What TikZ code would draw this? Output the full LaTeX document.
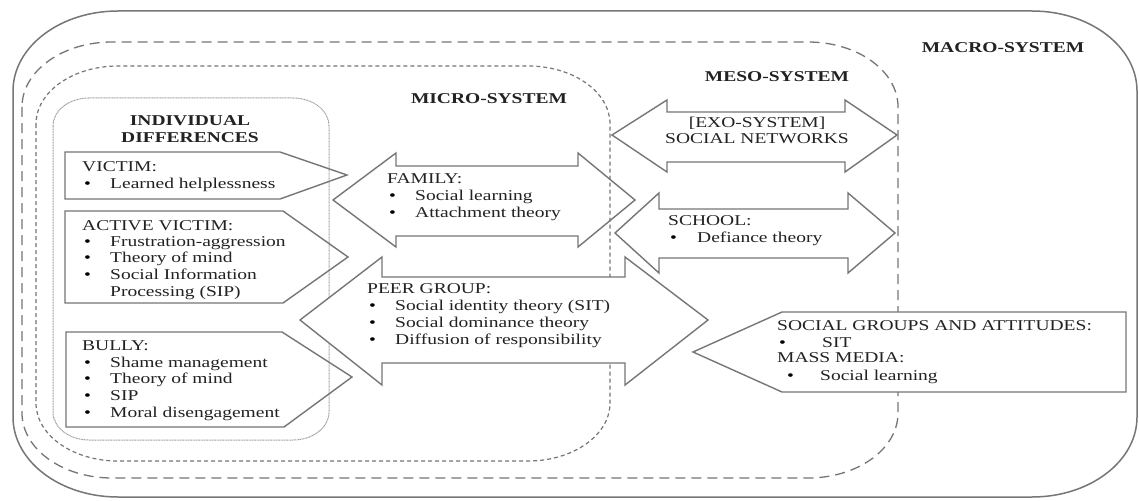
\documentclass[tikz,border=0pt]{standalone}
\usepackage{fontspec}
\setmainfont{Liberation Serif}[FakeStretch=1.3]
\definecolor{ln}{HTML}{767676}
\definecolor{tx}{HTML}{222222}
% elliptical-cornered box: x1,y1,x2,y2,rx,ry,style
\newcommand\ellbox[7]{\draw[#7] (#1,#2+#6) -- (#1,#4-#6)
  arc[start angle=180,end angle=270,x radius=#5pt,y radius=#6pt] -- (#3-#5,#4)
  arc[start angle=270,end angle=360,x radius=#5pt,y radius=#6pt] -- (#3,#2+#6)
  arc[start angle=0,end angle=90,x radius=#5pt,y radius=#6pt] -- (#1+#5,#2)
  arc[start angle=90,end angle=180,x radius=#5pt,y radius=#6pt] -- cycle;}
\begin{document}
\begin{tikzpicture}[x=1pt,y=-1pt,
  every node/.style={text=tx, font=\fontsize{15}{17}\selectfont, inner sep=0pt},
  lbl/.style={anchor=base west},
  bul/.style={anchor=base west, text=black},
  headlbl/.style={anchor=base, font=\fontsize{15}{17}\selectfont\bfseries},
  shp/.style={draw=ln, line width=1.4pt, line join=miter},
  macrobox/.style={draw=ln, line width=1.5pt},
  mesobox/.style={draw=ln, line width=1.3pt, dash pattern=on 10pt off 6pt},
  microbox/.style={draw=ln, line width=1.2pt, dash pattern=on 4pt off 3pt},
  indbox/.style={draw=ln!70, line width=1pt, dash pattern=on 1pt off 0.6pt}]
\useasboundingbox (0,0) rectangle (1139,500);
\fill[white] (0,0) rectangle (1139,500);

% system boxes
\ellbox{13}{11}{1137}{497}{105}{80}{macrobox}
\ellbox{22}{42}{898}{478}{90}{65}{mesobox}
\ellbox{36}{66}{610}{461}{82}{58}{microbox}
\ellbox{53}{98}{329}{440}{36}{28}{indbox}

% headings
\node[headlbl] (macro) at (1003,53) {MACRO-SYSTEM};
\node[headlbl] (meso) at (777,82) {MESO-SYSTEM};
\node[headlbl] (micro) at (489,103) {MICRO-SYSTEM};
\node[headlbl] (ind1) at (190,125) {INDIVIDUAL};
\node[headlbl] (ind2) at (190,142) {DIFFERENCES};

% individual pentagons
\draw[shp] (65,152) -- (280,152) -- (347,175) -- (280,199) -- (65,199) -- cycle;
\draw[shp] (65,211) -- (283,211) -- (348,257) -- (283,303) -- (65,303) -- cycle;
\draw[shp] (66,332) -- (282,332) -- (352,377) -- (284,427) -- (66,427) -- cycle;

\node[lbl] (vic) at (82,171) {VICTIM:};
\node[bul] (vicb1) at (84,188) {\textbullet};
\node[lbl] (vict1) at (110,188) {Learned helplessness};

\node[lbl] (act) at (82,230) {ACTIVE VICTIM:};
\node[bul] (actb1) at (84,246) {\textbullet};
\node[lbl] (actt1) at (110,246) {Frustration-aggression};
\node[bul] (actb2) at (84,262) {\textbullet};
\node[lbl] (actt2) at (110,262) {Theory of mind};
\node[bul] (actb3) at (84,279) {\textbullet};
\node[lbl] (actt3) at (110,279) {Social Information};
\node[lbl] (actt4) at (110,296) {Processing (SIP)};

\node[lbl] (bul) at (82,350) {BULLY:};
\node[bul] (bulb1) at (84,367) {\textbullet};
\node[lbl] (bult1) at (110,367) {Shame management};
\node[bul] (bulb2) at (84,383) {\textbullet};
\node[lbl] (bult2) at (110,383) {Theory of mind};
\node[bul] (bulb3) at (84,400) {\textbullet};
\node[lbl] (bult3) at (110,400) {SIP};
\node[bul] (bulb4) at (84,417) {\textbullet};
\node[lbl] (bult4) at (110,417) {Moral disengagement};

% family double arrow
\draw[shp] (333,200) -- (396,153) -- (396,166) -- (578,166) -- (578,153) -- (635,200)
  -- (578,247) -- (578,236) -- (396,236) -- (396,247) -- cycle;
\node[lbl] (fam) at (387,183) {FAMILY:};
\node[bul] (famb1) at (389,200) {\textbullet};
\node[lbl] (famt1) at (415,200) {Social learning};
\node[bul] (famb2) at (389,217) {\textbullet};
\node[lbl] (famt2) at (415,217) {Attachment theory};

% peer group double arrow
\draw[shp, fill=white] (300,320) -- (382,257) -- (382,277) -- (625,277) -- (625,257) -- (708,320)
  -- (625,385) -- (625,363) -- (382,363) -- (382,385) -- cycle;
\node[lbl] (peer) at (367,293) {PEER GROUP:};
\node[bul] (peerb1) at (369,310) {\textbullet};
\node[lbl] (peert1) at (395,310) {Social identity theory (SIT)};
\node[bul] (peerb2) at (369,327) {\textbullet};
\node[lbl] (peert2) at (395,327) {Social dominance theory};
\node[bul] (peerb3) at (369,344) {\textbullet};
\node[lbl] (peert3) at (395,344) {Diffusion of responsibility};

% exo-system double arrow
\draw[shp] (612,135) -- (667,100) -- (667,112) -- (845,112) -- (845,100) -- (897,135)
  -- (845,172) -- (845,162) -- (667,162) -- (667,172) -- cycle;
\node[anchor=base] (exo1) at (757,128) {[EXO-SYSTEM]};
\node[anchor=base] (exo2) at (757,143) {SOCIAL NETWORKS};

% school double arrow
\draw[shp] (615,233) -- (659,193) -- (659,209) -- (848,209) -- (848,193) -- (895,233)
  -- (848,273) -- (848,258) -- (659,258) -- (659,273) -- cycle;
\node[lbl] (sch) at (668,225) {SCHOOL:};
\node[bul] (schb1) at (670,242) {\textbullet};
\node[lbl] (scht1) at (697,242) {Defiance theory};

% social groups / mass media
\draw[shp, fill=white] (693,352) -- (782,312) -- (1126,312) -- (1126,392) -- (782,392) -- cycle;
\node[lbl] (sg) at (777,330) {SOCIAL GROUPS AND ATTITUDES:};
\node[bul] (sgb1) at (779,347) {\textbullet};
\node[lbl] (sgt1) at (822,347) {SIT};
\node[lbl] (mm) at (777,362) {MASS MEDIA:};
\node[bul] (mmb1) at (787,380) {\textbullet};
\node[lbl] (mmt1) at (820,380) {Social learning};
\end{tikzpicture}
\end{document}
